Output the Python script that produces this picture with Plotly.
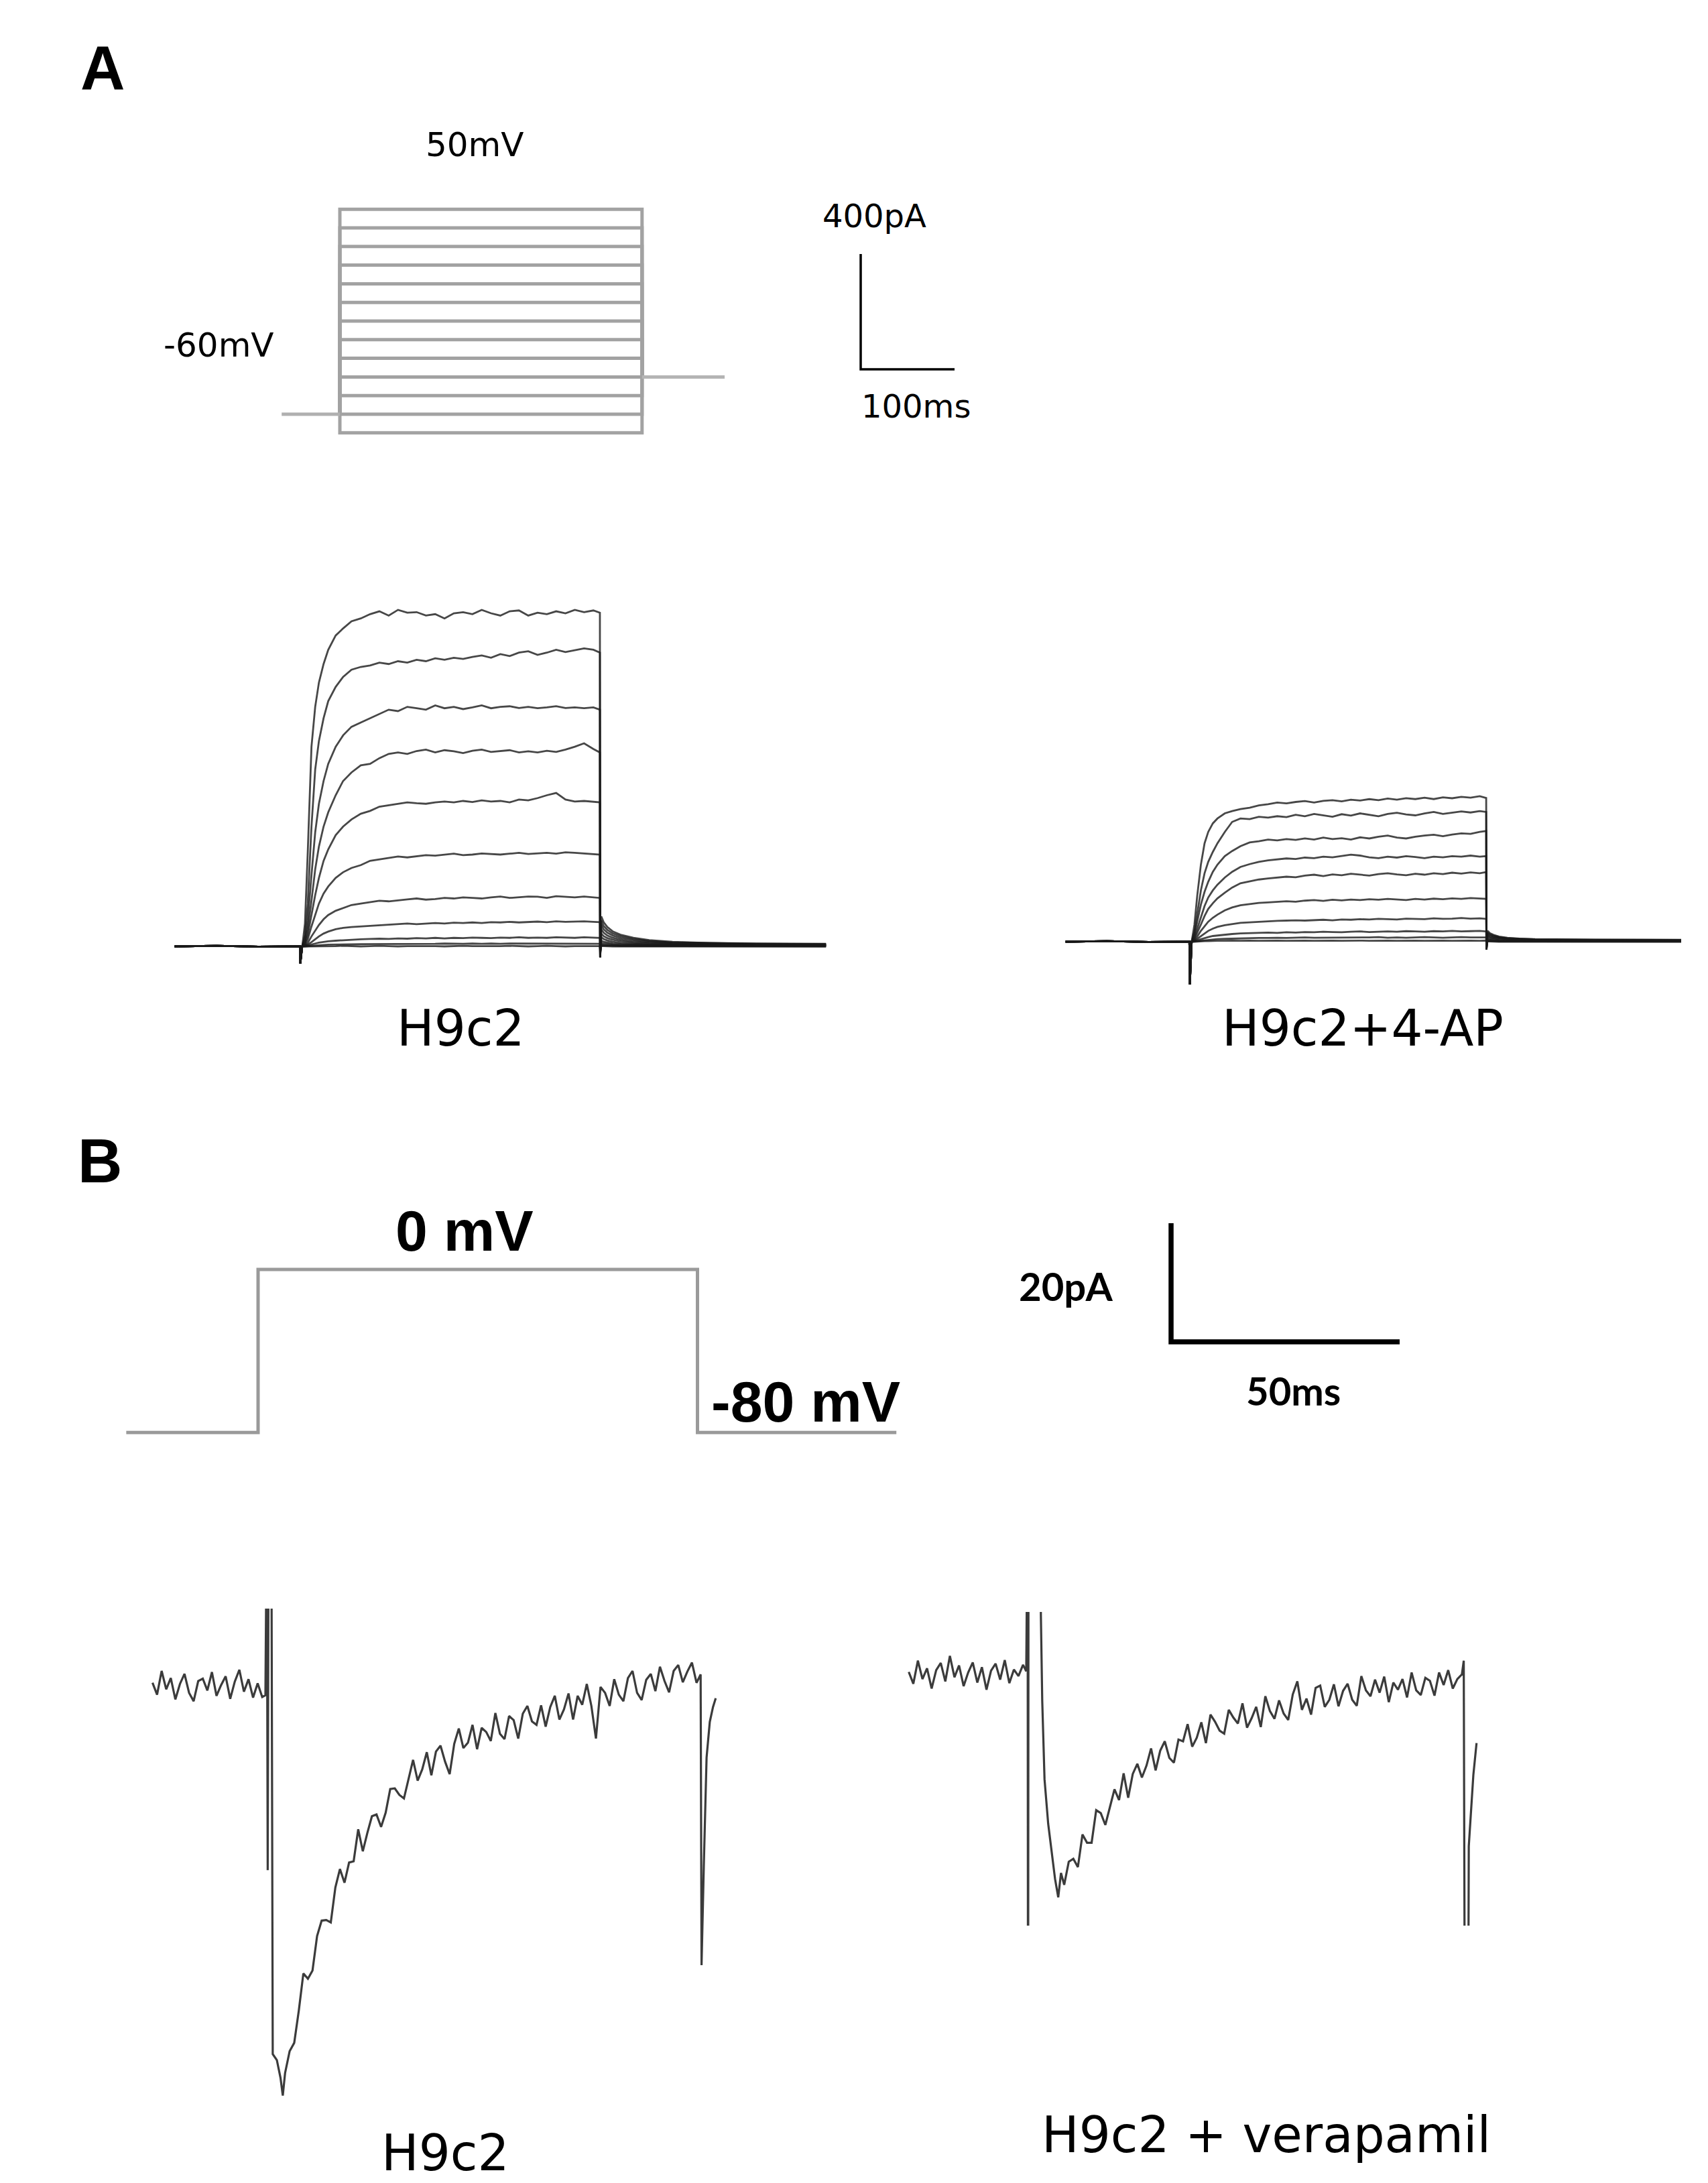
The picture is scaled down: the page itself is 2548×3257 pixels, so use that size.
import plotly.graph_objects as go

W, H = 2548, 3257

# ---------------- data ----------------
# A: voltage protocol (mV / ms)
step_levels_mv = [50, 40, 30, 20, 10, 0, -10, -20, -30, -40, -50, -60, -70]
hold_mv = -60
after_mv = -40
proto_a_times = [-62, 0, 322, 410]          # start, step on, step off, end

# A: K+ currents (pA), sampled at t_a (ms) during the step
t_a = [0, 2, 5, 8, 12, 16, 20, 25, 30, 38, 46, 55, 65, 75, 85, 95, 105, 115, 125, 135, 145,
       155, 165, 175, 185, 195, 205, 215, 225, 235, 245, 255, 265, 275, 285, 295, 305, 315, 322]
pre_a_t = [-135, -90, -45, -0.5]
pre_a_i = [0, 2, -1, 0]
tail_a_t = [322.3, 323.5, 326, 330, 336, 345, 358, 375, 400, 440, 490, 565]

h9c2_a = [
    [-60, 0, 80, 330, 700, 840, 925, 990, 1040, 1090, 1115, 1140, 1150, 1165, 1175, 1160, 1180, 1170, 1172, 1160,
     1165, 1150, 1168, 1172, 1165, 1180, 1168, 1160, 1175, 1178, 1160, 1170, 1165, 1175, 1168, 1180, 1172, 1178, 1170],
    [-60, 0, 40, 150, 420, 620, 720, 800, 860, 910, 945, 970, 980, 985, 995, 990, 1000, 995, 1005, 1000,
     1010, 1005, 1012, 1008, 1015, 1020, 1012, 1025, 1018, 1030, 1035, 1022, 1030, 1040, 1032, 1038, 1045, 1040, 1030],
    [-60, 0, 25, 90, 250, 400, 500, 580, 640, 700, 740, 770, 785, 800, 815, 830, 825, 840, 835, 830,
     845, 835, 840, 832, 838, 845, 835, 840, 842, 836, 840, 835, 838, 842, 836, 838, 835, 838, 830],
    [-60, 0, 15, 60, 160, 270, 350, 420, 470, 530, 580, 610, 635, 640, 660, 675, 680, 675, 685, 690,
     680, 688, 684, 678, 686, 690, 682, 685, 688, 680, 684, 680, 686, 682, 690, 700, 712, 692, 680],
    [-60, 0, 10, 40, 110, 180, 240, 300, 340, 390, 420, 445, 465, 475, 490, 495, 500, 505, 502, 500,
     505, 508, 505, 510, 506, 512, 508, 510, 505, 515, 512, 520, 530, 538, 515, 508, 510, 508, 505],
    [-60, 0, 5, 25, 70, 110, 150, 185, 210, 240, 260, 275, 285, 300, 305, 310, 315, 312, 316, 320,
     318, 322, 325, 320, 322, 326, 324, 322, 325, 328, 324, 326, 328, 325, 330, 328, 326, 324, 322],
    [-60, 0, 3, 12, 35, 55, 75, 95, 110, 125, 135, 145, 150, 155, 160, 158, 162, 165, 168, 164,
     166, 170, 168, 172, 170, 168, 172, 175, 170, 172, 175, 174, 170, 176, 174, 172, 175, 172, 170],
    [-60, 0, 2, 6, 15, 25, 35, 45, 52, 60, 65, 68, 70, 72, 75, 76, 78, 80, 78, 80,
     82, 80, 83, 82, 84, 82, 85, 84, 86, 84, 85, 87, 85, 88, 86, 87, 88, 86, 85],
    [-60, 0, 1, 3, 6, 10, 13, 16, 18, 20, 22, 24, 25, 26, 27, 26, 28, 27, 29, 28,
     30, 28, 30, 29, 31, 30, 29, 31, 30, 32, 30, 31, 30, 32, 31, 30, 32, 31, 30],
    [-60, 0, 0, 1, 2, 3, 4, 5, 6, 6, 7, 7, 8, 8, 8, 9, 8, 9, 9, 8,
     9, 10, 9, 9, 10, 9, 10, 9, 10, 10, 9, 10, 9, 10, 10, 9, 10, 10, 9],
    [-60, 0, 0, 0, 1, 0, 1, 1, 0, 1, 2, 1, 0, 1, 2, 1, 0, 1, 1, 2,
     1, 0, 1, 2, 1, 1, 0, 1, 2, 1, 0, 1, 2, 1, 0, 1, 1, 2, 1],
]
h9c2_a_tail = [
    [-38, 105, 85, 68, 52, 40, 30, 22, 16, 12, 10, 9],
    [-38, 90, 72, 58, 45, 35, 26, 19, 14, 11, 9, 8],
    [-38, 75, 60, 48, 38, 29, 22, 16, 12, 10, 8, 7],
    [-38, 60, 48, 38, 30, 23, 17, 13, 10, 8, 7, 6],
    [-38, 45, 36, 29, 23, 18, 13, 10, 8, 6, 5, 5],
    [-38, 32, 26, 21, 16, 12, 9, 7, 6, 5, 4, 4],
    [-30, 20, 16, 13, 10, 8, 6, 5, 4, 3, 3, 3],
    [-25, 12, 10, 8, 6, 5, 4, 3, 3, 2, 2, 2],
    [-20, 6, 5, 4, 3, 3, 2, 2, 2, 1, 1, 1],
    [-15, 3, 3, 2, 2, 1, 1, 1, 1, 1, 0, 0],
    [-10, 1, 1, 0, 0, 0, 0, 0, 0, 0, 0, 0],
]

ap_a = [
    [-150, 0, 60, 160, 270, 345, 385, 415, 432, 450, 458, 465, 470, 478, 482, 488, 485, 490, 493, 488,
     494, 496, 492, 498, 495, 500, 496, 502, 498, 503, 500, 505, 500, 506, 503, 508, 505, 510, 504],
    [-150, 0, 35, 100, 180, 240, 280, 315, 345, 385, 420, 432, 430, 438, 435, 440, 437, 445, 440, 448,
     443, 438, 447, 442, 450, 445, 440, 448, 452, 446, 443, 450, 455, 448, 452, 457, 453, 458, 455],
    [-150, 0, 25, 70, 130, 175, 210, 245, 270, 300, 318, 335, 348, 352, 358, 355, 360, 357, 362, 358,
     365, 360, 363, 358, 366, 362, 368, 372, 365, 362, 368, 372, 375, 370, 376, 380, 378, 385, 388],
    [-150, 0, 15, 45, 90, 125, 155, 180, 200, 225, 245, 262, 272, 280, 285, 288, 292, 290, 295, 293,
     298, 296, 300, 305, 302, 296, 293, 298, 295, 300, 297, 293, 298, 296, 300, 298, 302, 298, 300],
    [-150, 0, 10, 30, 60, 90, 115, 135, 152, 172, 190, 205, 212, 218, 222, 225, 228, 226, 232, 235,
     230, 236, 233, 238, 235, 232, 237, 240, 236, 233, 238, 235, 240, 237, 242, 239, 243, 240, 244],
    [-150, 0, 6, 18, 38, 55, 70, 84, 95, 110, 120, 128, 132, 136, 138, 140, 142, 140, 144, 146,
     143, 147, 145, 148, 146, 149, 147, 150, 148, 146, 150, 148, 151, 149, 152, 150, 153, 151, 150],
    [-150, 0, 3, 10, 20, 30, 38, 46, 52, 58, 62, 66, 68, 70, 72, 73, 74, 75, 74, 76,
     77, 75, 78, 77, 79, 78, 80, 79, 78, 81, 80, 79, 82, 80, 81, 83, 81, 82, 80],
    [-150, 0, 2, 5, 9, 13, 16, 20, 22, 25, 27, 29, 30, 31, 32, 31, 33, 32, 34, 33,
     35, 34, 33, 35, 36, 34, 35, 36, 35, 37, 36, 35, 37, 36, 38, 36, 37, 38, 36],
    [-150, 0, 1, 2, 4, 5, 7, 8, 9, 10, 11, 12, 12, 13, 13, 14, 13, 14, 15, 14,
     14, 15, 14, 15, 14, 15, 16, 14, 15, 14, 15, 16, 15, 14, 15, 16, 15, 14, 15],
    [-150, 0, 0, 1, 1, 2, 2, 3, 3, 3, 4, 3, 4, 3, 4, 4, 3, 4, 4, 3,
     4, 4, 3, 4, 4, 3, 4, 4, 3, 4, 4, 3, 4, 4, 3, 4, 4, 3, 4],
]
ap_a_tail = [
    [-28, 38, 30, 24, 18, 14, 11, 9, 8, 7, 7, 6],
    [-28, 33, 26, 21, 16, 12, 10, 8, 7, 6, 6, 5],
    [-28, 28, 22, 18, 14, 11, 9, 7, 6, 6, 5, 5],
    [-28, 23, 18, 15, 12, 9, 7, 6, 5, 5, 4, 4],
    [-25, 18, 14, 12, 9, 7, 6, 5, 4, 4, 3, 3],
    [-22, 12, 10, 8, 6, 5, 4, 3, 3, 3, 2, 2],
    [-18, 7, 6, 5, 4, 3, 3, 2, 2, 2, 2, 2],
    [-14, 4, 3, 3, 2, 2, 2, 1, 1, 1, 1, 1],
    [-10, 2, 2, 1, 1, 1, 1, 1, 1, 1, 0, 0],
    [-8, 1, 1, 0, 0, 0, 0, 0, 0, 0, 0, 0],
]

# B: Ca2+ current protocol
proto_b_times = [-28.5, 0, 95, 138]
hold_b_mv = -80
step_b_mv = 0

# B: H9c2 trace (ms, pA)
h9c2_b_t = (list(range(-25, 0)) + [-0.3, 0, 0.2, 0.4, 1.0, 1.3, 2.2, 3.0, 3.5]
            + list(range(4, 95)) + [94.9, 95.1, 95.6, 96.2, 96.9, 97.6, 98.2])
h9c2_b_i = [0.6, -1.4, 2.6, -0.5, 1.4, -2.2, 0.4, 2.1, -1.1, -2.5, 0.9, 1.3, -0.7, 2.4, -1.6, 0.2,
            1.7, -2.1, 0.8, 2.8, -0.9, 1.2, -1.9, 0.5, -1.8,
            -1.5, 30, -31, 30, 30, -62, -63, -66, -69,
            -65.2, -61.5, -60.1, -54.7, -48.4, -49.3, -47.9, -42.1, -39.5, -39.4, -39.8, -33.9, -30.8,
            -33.1, -29.7, -29.5, -24.1, -27.8, -24.7, -21.9, -21.6, -23.7, -21.3, -17.3, -17.2, -18.3,
            -18.9, -15.5, -12.4, -15.9, -14.0, -11.1, -15.0, -11.0, -10.0, -12.7, -14.8, -9.7, -7.1,
            -10.4, -9.5, -6.5, -10.6, -7.0, -7.7, -9.2, -4.5, -8.0, -8.9, -5.0, -5.7, -8.8, -4.6, -3.3,
            -5.9, -6.5, -3.2, -6.8, -3.5, -1.6, -5.6, -3.9, -1.2, -5.6, -1.6, -3.1, 0.4, -3.3, -8.8,
            -0.1, -1.1, -3.3, 1.2, -1.4, -2.5, 1.4, 2.6, -1.1, -2.3, 1.1, 2.1, -0.8, 3.3, 0.9, -1.0,
            2.6, 3.6, 0.7, 2.5, 4.0, 0.6,
            2.0, -47, -30, -12, -6, -3.5, -2]

# B: H9c2 + verapamil trace (ms, pA)
vera_b_t = (list(range(-26, 0)) + [-0.3, 0, 0.1, 0.2, 2.8, 2.9, 3.2, 3.7, 4.5, 5.4, 6.0, 6.7, 7.3]
            + list(range(8, 96)) + [95.4, 95.7, 96.3, 96.5, 97.5, 98.2])
vera_b_i = [0.4, -1.6, 2.3, -0.8, 1.0, -2.4, 0.7, 1.9, -1.2, 3.1, -0.5, 1.5, -2.0, 0.3, 2.0, -1.4,
            1.2, -2.6, 0.6, 1.8, -0.9, 2.4, -1.5, 0.8, -0.3, 1.6,
            0.5, 30, -80, 30, 30, 10, -4.5, -17.7, -25.2, -30.8, -34.5, -37.6, -33.5,
            -35.5, -31.6, -31.1, -32.5, -27.0, -28.4, -28.4, -22.9, -23.4, -25.4, -22.4, -19.4, -21.2,
            -16.7, -20.8, -16.8, -15.1, -17.4, -15.4, -12.5, -16.2, -12.9, -11.3, -14.1, -14.9, -11.0,
            -11.3, -8.4, -12.2, -10.7, -8.1, -11.6, -6.8, -8.0, -9.5, -10.0, -6.0, -7.3, -8.3, -4.9,
            -9.0, -7.4, -5.5, -8.9, -3.7, -6.2, -7.5, -4.4, -6.6, -7.7, -3.4, -1.2, -6.0, -4.1, -6.8,
            -2.3, -1.9, -5.5, -4.3, -1.7, -5.4, -2.8, -1.6, -4.3, -5.3, -0.3, -2.7, -3.7, -0.9, -3.1,
            -0.4, -4.7, -1.4, -2.6, -0.8, -3.9, 0.3, -2.7, -3.5, -0.6, -1.1, -3.6, 0.3, -1.8, 0.7,
            -2.4, -0.8, 0.0,
            2.3, -80, -80, -29, -17, -11.6]

# scale bars
bar_a = (100, 400)   # ms, pA
bar_b = (50, 20)     # ms, pA

# ---------------- figure ----------------
fig = go.Figure()


def add_axes(n, box, origin, scale):
    # box and origin in page pixels, scale in px per data unit
    x0, x1, y0, y1 = box
    ox, oy = origin
    sx, sy = scale
    xk = "xaxis" if n == 1 else f"xaxis{n}"
    yk = "yaxis" if n == 1 else f"yaxis{n}"
    fig.update_layout({
        xk: dict(domain=[x0 / W, x1 / W], range=[(x0 - ox) / sx, (x1 - ox) / sx],
                 visible=False, anchor="y" if n == 1 else f"y{n}"),
        yk: dict(domain=[1 - y1 / H, 1 - y0 / H], range=[(oy - y1) / sy, (oy - y0) / sy],
                 visible=False, anchor="x" if n == 1 else f"x{n}"),
    })
    return ("x" if n == 1 else f"x{n}"), ("y" if n == 1 else f"y{n}")


def line(ax, x, y, color, width):
    fig.add_trace(go.Scatter(x=x, y=y, mode="lines", xaxis=ax[0], yaxis=ax[1],
                             line=dict(color=color, width=width), showlegend=False,
                             hoverinfo="skip"))


# A protocol
ax = add_axes(1, (395, 1090, 290, 650), (499, 443.2), (1.4, 2.78))
t0, ton, toff, tend = proto_a_times
for v in step_levels_mv:
    line(ax, [ton, ton, toff, toff], [hold_mv, v, v, after_mv], "#a2a2a2", 5)
line(ax, [t0, ton], [hold_mv, hold_mv], "#b0b0b0", 5)
line(ax, [toff, tend], [after_mv, after_mv], "#b4b4b4", 5)

# A scale bar
ax = add_axes(2, (1255, 1440, 355, 560), (1276, 543), (1.4, 0.43))
line(ax, [0, 0, bar_a[0]], [bar_a[1], 0, 0], "#000000", 3.5)

# A H9c2 currents
ax = add_axes(3, (250, 1230, 860, 1480), (440, 1404), (1.388, 0.4255))
for sw, tl in zip(h9c2_a, h9c2_a_tail):
    line(ax, pre_a_t + t_a + tail_a_t, pre_a_i + sw + tl, "rgba(25,25,25,0.8)", 2.8)

# A H9c2 + 4-AP currents
ax = add_axes(4, (1570, 2500, 1140, 1480), (1767, 1397), (1.373, 0.4255))
for sw, tl in zip(ap_a, ap_a_tail):
    line(ax, pre_a_t + t_a + tail_a_t, pre_a_i + sw + tl, "rgba(25,25,25,0.8)", 2.8)

# B protocol
ax = add_axes(5, (165, 1340, 1860, 2150), (377, 1886), (6.9, 3.04))
b0, bon, boff, bend = proto_b_times
line(ax, [b0, bon, bon, boff, boff, bend],
     [hold_b_mv, hold_b_mv, step_b_mv, step_b_mv, hold_b_mv, hold_b_mv], "#9a9a9a", 5)

# B scale bar
ax = add_axes(6, (1715, 2110, 1800, 2010), (1739, 1994), (6.82, 8.85))
line(ax, [0, 0, bar_b[0]], [bar_b[1], 0, 0], "#000000", 7.5)

# B H9c2 trace
ax = add_axes(7, (210, 1070, 2392, 3140), (390, 2508), (6.82, 8.85))
line(ax, h9c2_b_t, h9c2_b_i, "rgba(25,25,25,0.85)", 3.2)

# B verapamil trace
ax = add_axes(8, (1335, 2205, 2397, 2865), (1525, 2490), (6.82, 8.85))
line(ax, vera_b_t, vera_b_i, "rgba(25,25,25,0.85)", 3.2)

# ---------------- text ----------------
labels = [
    ("A", 145, 93, 92, "Liberation Sans, Arial", True),
    ("B", 141, 1724, 92, "Liberation Sans, Arial", True),
    ("50mV", 700, 208, 50, "DejaVu Sans", False),
    ("-60mV", 318, 507, 50, "DejaVu Sans", False),
    ("400pA", 1296, 314, 48, "DejaVu Sans", False),
    ("100ms", 1358, 598, 48, "DejaVu Sans", False),
    ("H9c2", 679, 1526, 74, "DejaVu Sans", False),
    ("H9c2+4-AP", 2025, 1526, 74, "DejaVu Sans", False),
    ("0 mV", 685, 1828, 86, "Liberation Sans Narrow, Liberation Sans", True),
    ("-80 mV", 1194, 2083, 86, "Liberation Sans Narrow, Liberation Sans", True),
    ("20pA", 1582, 1910, 58, "Lato", True),
    ("50ms", 1921, 2066, 58, "Lato", True),
    ("H9c2", 656, 3204, 74, "DejaVu Sans", False),
    ("H9c2 + verapamil", 1881, 3177, 74, "DejaVu Sans", False),
]
for txt, x, y, size, fam, bold in labels:
    fig.add_annotation(x=x / W, y=1 - y / H, xref="paper", yref="paper", text=txt,
                       showarrow=False, xanchor="center", yanchor="middle",
                       font=dict(size=size, family=fam, color="#000000",
                                 weight="bold" if bold else "normal"))

fig.update_layout(width=W, height=H, margin=dict(l=0, r=0, t=0, b=0),
                  paper_bgcolor="white", plot_bgcolor="rgba(0,0,0,0)")

fig.write_html("out.html")
